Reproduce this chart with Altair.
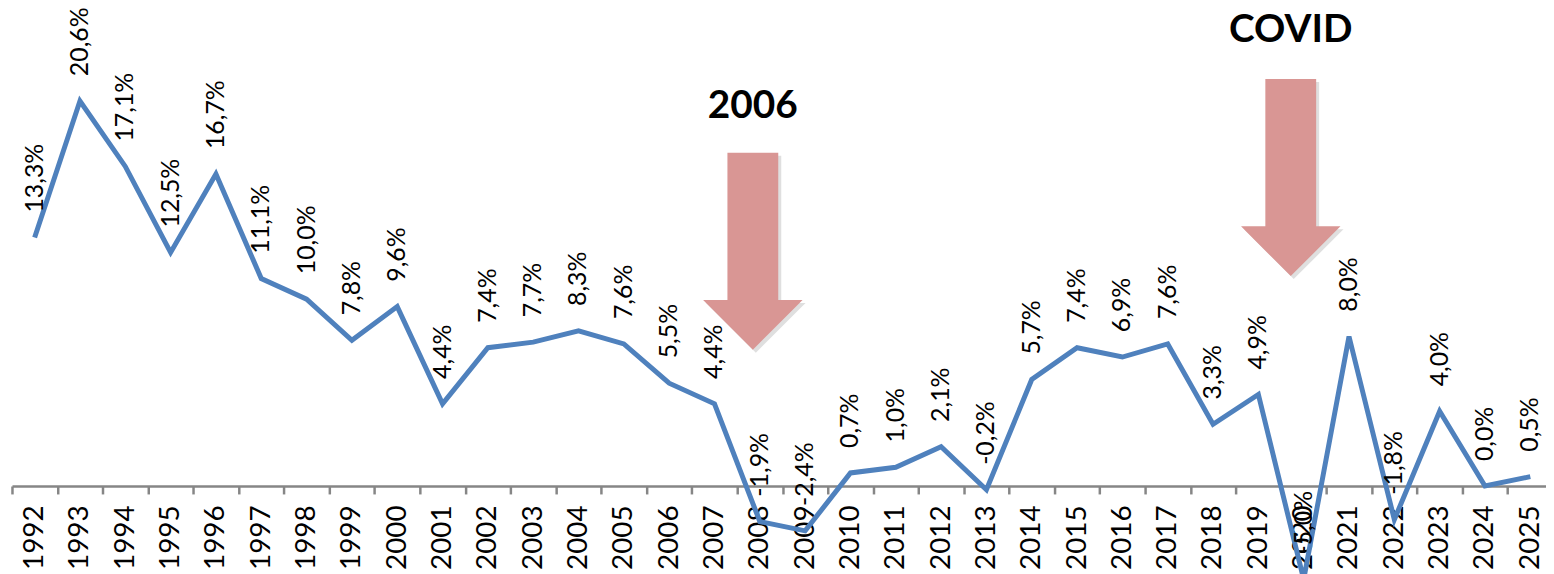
import altair as alt
import pandas as pd

years = [str(y) for y in range(1992, 2026)]
values = [13.3, 20.6, 17.1, 12.5, 16.7, 11.1, 10.0, 7.8, 9.6, 4.4,
          7.4, 7.7, 8.3, 7.6, 5.5, 4.4, -1.9, -2.4, 0.7, 1.0,
          2.1, -0.2, 5.7, 7.4, 6.9, 7.6, 3.3, 4.9, -5.0, 8.0,
          -1.8, 4.0, 0.0, 0.5]
labels = [f"{v:.1f}".replace(".", ",") + "%" for v in values]

ann_years = ["2008", "2020"]
ann_labels = ["2006", "COVID"]

df = pd.DataFrame({"year": years, "value": values, "label": labels})

FONT = "Lato"
LINE = "#4F81BD"
ARROW = "#D99694"

x_scale = alt.Scale(paddingInner=0, paddingOuter=0, range=[0, 1549])
x_enc = alt.X("year:O", title=None, sort=years, scale=x_scale,
              axis=alt.Axis(labelAngle=270, tickBand="extent", tickSize=8,
                            labelPadding=11, labelFont=FONT, labelFontSize=28,
                            labelColor="black", domainColor="#868686",
                            tickColor="#868686", domainWidth=2.5, tickWidth=2.5,
                            labelOverlap=False))
y_enc = alt.Y("value:Q", axis=None,
              scale=alt.Scale(domain=[0, 25.5], nice=False, zero=False))

base = alt.Chart(df)
line = base.mark_line(color=LINE, strokeWidth=5, clip=False).encode(x=x_enc, y=y_enc)
text = base.mark_text(angle=270, align="left", baseline="middle", dx=25,
                      font=FONT, fontSize=25, color="black").encode(
    x=alt.X("year:O", sort=years), y="value:Q", text="label:N")

arrow_path = ("M -0.258 -1 L 0.258 -1 L 0.258 0.495 L 0.505 0.495 "
              "L 0 1 L -0.505 0.495 L -0.258 0.495 Z")

ann_df = pd.DataFrame({"year": ann_years, "label": ann_labels})
layers = []
arrow_y = [243, 169]
text_y = [109, 33]
x_off = [-7, -13]
for i in range(len(ann_years)):
    d = alt.Chart(ann_df.iloc[[i]])
    shadow = d.mark_point(shape=arrow_path, filled=True, color="#7f7f7f",
                          opacity=0.25, size=39204, strokeWidth=0,
                          xOffset=x_off[i] + 3, yOffset=3).encode(
        x=alt.X("year:O", sort=years), y=alt.value(arrow_y[i]))
    arrow = d.mark_point(shape=arrow_path, filled=True, color=ARROW,
                         opacity=1, size=39204, strokeWidth=0,
                         xOffset=x_off[i]).encode(
        x=alt.X("year:O", sort=years), y=alt.value(arrow_y[i]))
    lab = d.mark_text(font=FONT, fontSize=39, fontWeight="bold", color="black",
                      align="center", baseline="alphabetic",
                      dx=x_off[i]).encode(
        x=alt.X("year:O", sort=years), y=alt.value(text_y[i]), text="label:N")
    layers += [shadow, arrow, lab]

chart = alt.layer(line, text, *layers).properties(
    width=1542, height=479,
    autosize=alt.AutoSizeParams(type="none"),
    padding={"left": 4, "top": 0, "right": 0, "bottom": 90},
).configure_view(stroke=None)

chart.save("out.html", embed_options={"renderer": "svg", "actions": False})
